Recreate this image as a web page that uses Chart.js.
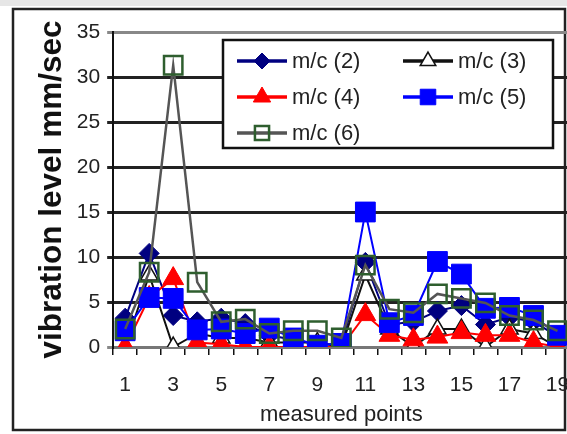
<!DOCTYPE html>
<html>
<head>
<meta charset="utf-8">
<script src="https://cdn.jsdelivr.net/npm/chart.js@4.4.0/dist/chart.umd.min.js"></script>
<style>
  html, body { margin: 0; padding: 0; background: #fff; overflow: hidden; }
  #wrap { width: 567px; height: 434px; overflow: hidden; position: relative; }
  canvas { display: block; }
</style>
</head>
<body>
<div id="wrap"><canvas id="vibChart" width="587" height="434"></canvas></div>
<script>
// measured points 1..19
const points = ['1','2','3','4','5','6','7','8','9','10','11','12','13','14','15','16','17','18','19'];
const yTicks = [0, 5, 10, 15, 20, 25, 30, 35];

// vibration level (mm/sec) per machine
const mc2 = [3.2, 10.4, 3.5, 2.8, 3.2, 2.6, 1.3, 0.8, 0.3, 0.3, 9.4, 2.5, 2.8, 4.0, 4.6, 2.5, 3.3, 2.8, 1.2];
const mc3 = [0, 8, 0, 1.5, 1, 1, 0.5, 0.5, 0.5, 0, 8, 2, 0, 2, 2, 0, 2, 1.5, 0];
const mc4 = [0, 5.5, 7.6, 0.5, 0.3, 0, 0, 0, 0, 0, 3.6, 1.3, 0.8, 1.1, 1.6, 1.3, 1.3, 0.5, 0];
const mc5 = [1.8, 5.5, 5.4, 1.9, 2.0, 1.5, 2.1, 1.0, 0.2, 0.4, 15, 2.7, 3.5, 9.5, 8.1, 4.3, 4.4, 3.5, 1.3];
const mc6 = [2, 8.3, 31.3, 7.2, 2.8, 3.1, 1.5, 1.8, 1.8, 1, 9.1, 4.2, 3.8, 5.9, 5.4, 4.9, 3.5, 3, 1.8];

const sans = "'Liberation Sans', Arial, sans-serif";

// outer frame like the original picture
const framePlugin = {
  id: 'frame',
  beforeDraw(chart) {
    const ctx = chart.ctx;
    ctx.save();
    ctx.fillStyle = '#fff';
    ctx.fillRect(0, 0, chart.width, chart.height);
    ctx.fillStyle = '#e6e6e6';
    ctx.fillRect(0, 0, chart.width, 6);
    ctx.strokeStyle = '#222';
    ctx.lineWidth = 2.5;
    ctx.strokeRect(13, 9, 552, 421);
    ctx.restore();
  }
};

// boxed legend inside the plot, two columns
const legendPlugin = {
  id: 'boxLegend',
  afterDatasetsDraw(chart) {
    const ctx = chart.ctx;
    ctx.save();
    ctx.fillStyle = '#fff';
    ctx.fillRect(223, 40, 330, 108);
    ctx.strokeStyle = '#111';
    ctx.lineWidth = 2.5;
    ctx.strokeRect(223, 40, 330, 108);
    ctx.font = '22px ' + sans;
    ctx.textBaseline = 'middle';
    chart.data.datasets.forEach((ds, i) => {
      const col = i % 2;
      const row = Math.floor(i / 2);
      const x0 = col ? 403 : 237;
      const y = 61 + row * 36;
      ctx.strokeStyle = ds.borderColor;
      ctx.lineWidth = 3.5;
      ctx.beginPath();
      ctx.moveTo(x0, y);
      ctx.lineTo(x0 + 50, y);
      ctx.stroke();
      ctx.fillStyle = ds.pointBackgroundColor;
      ctx.strokeStyle = ds.pointBorderColor;
      ctx.lineWidth = ds.pointBorderWidth;
      Chart.helpers.drawPoint(ctx, {
        pointStyle: ds.pointStyle,
        radius: ds.legendRadius,
        borderWidth: ds.pointBorderWidth,
        rotation: 0
      }, x0 + 25, y);
      ctx.fillStyle = '#222';
      ctx.fillText(ds.label, x0 + 55, y + 1);
    });
    ctx.restore();
  }
};

new Chart(document.getElementById('vibChart'), {
  type: 'line',
  data: {
    labels: points,
    datasets: [
      { label: 'm/c (2)', data: mc2, order: 5, borderColor: '#000080', borderWidth: 2,
        pointStyle: 'rectRot', pointRadius: 10, legendRadius: 8,
        pointBackgroundColor: '#000080', pointBorderColor: '#000080', pointBorderWidth: 1 },
      { label: 'm/c (3)', data: mc3, order: 4, borderColor: '#111', borderWidth: 2,
        pointStyle: 'triangle', pointRadius: 10, legendRadius: 9,
        pointBackgroundColor: '#fff', pointBorderColor: '#111', pointBorderWidth: 1.5 },
      { label: 'm/c (4)', data: mc4, order: 3, borderColor: '#ff0000', borderWidth: 2,
        pointStyle: 'triangle', pointRadius: 12, legendRadius: 10,
        pointBackgroundColor: '#ff0000', pointBorderColor: '#ff0000', pointBorderWidth: 1 },
      { label: 'm/c (5)', data: mc5, order: 2, borderColor: '#0000ff', borderWidth: 2,
        pointStyle: 'rect', pointRadius: 14, legendRadius: 11,
        pointBackgroundColor: '#0000ff', pointBorderColor: '#0000ff', pointBorderWidth: 1 },
      { label: 'm/c (6)', data: mc6, order: 1, borderColor: '#555', borderWidth: 2.5,
        pointStyle: 'rect', pointRadius: 13, legendRadius: 10,
        pointBackgroundColor: 'rgba(0,0,0,0)', pointBorderColor: '#2e5e2e', pointBorderWidth: 2.5 }
    ]
  },
  options: {
    responsive: false,
    animation: false,
    devicePixelRatio: 1,
    layout: { padding: { left: 20, top: 32, right: 0, bottom: 0 } },
    plugins: {
      legend: { display: false },
      tooltip: { enabled: false }
    },
    elements: { line: { tension: 0 } },
    scales: {
      x: {
        offset: true,
        grid: { display: true, drawOnChartArea: false, drawTicks: true, tickLength: 8,
                color: '#111', lineWidth: 1.5, offset: true },
        border: { display: true, color: '#777', width: 3 },
        ticks: {
          autoSkip: false, maxRotation: 0, padding: 17.4, color: '#222',
          font: { family: sans, size: 21 },
          callback: (v, i) => (i % 2 === 0 ? points[i] : '')
        },
        title: { display: true, text: 'measured points', color: '#222',
                 font: { family: sans, size: 22 }, padding: { top: -13.2, bottom: 5.8 } }
      },
      y: {
        min: yTicks[0],
        max: yTicks[yTicks.length - 1],
        afterBuildTicks: (scale) => { scale.ticks = yTicks.map(v => ({ value: v })); },
        grid: {
          tickLength: 6,
          color: (c) => (c.tick && (c.tick.value === 0 || c.tick.value === 35) ? '#888' : '#222'),
          lineWidth: 3
        },
        border: { display: true, color: '#111', width: 2 },
        ticks: { padding: 7, color: '#222', font: { family: sans, size: 21 } },
        title: { display: true, text: 'vibration level mm/sec', color: '#111',
                 font: { family: sans, size: 31.5, weight: 'bold' },
                 padding: { top: 13, bottom: -1 } }
      }
    }
  },
  plugins: [framePlugin, legendPlugin]
});
</script>
</body>
</html>
